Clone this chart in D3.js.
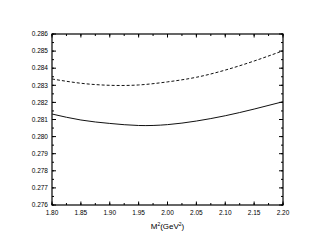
<!DOCTYPE html>
<meta charset="utf-8">
<style>
    body { margin: 0; background: #fff; }
    text { font-family: "Liberation Sans", Arial, sans-serif; fill: #000; }
    .tick-label { font-size: 6.5px; }
    .axis-title { font-size: 8px; }
    .line { fill: none; stroke: #111; stroke-width: 1px; }
</style>
<svg id="chart" width="317" height="249"></svg>
<script src="https://cdn.jsdelivr.net/npm/d3@7"></script>
<script>
    // M^2 values (GeV^2)
    var m2 = [1.80, 1.85, 1.90, 1.95, 2.00, 2.05, 2.10, 2.15, 2.20];
    // solid curve
    var solidVals = [0.28132, 0.28097, 0.28077, 0.28065, 0.28070, 0.28091, 0.28122, 0.28161, 0.28204];
    // dashed curve
    var dashedVals = [0.28337, 0.28312, 0.28300, 0.28302, 0.28320, 0.28347, 0.28389, 0.28442, 0.28502];
    var xTicks = [1.80, 1.85, 1.90, 1.95, 2.00, 2.05, 2.10, 2.15, 2.20];
    var yTicks = [0.276, 0.277, 0.278, 0.279, 0.280, 0.281, 0.282, 0.283, 0.284, 0.285, 0.286];

    var svg = d3.select("#chart"),
        margin = { top: 34, right: 34, bottom: 44, left: 52 },
        width = 283 - margin.left,
        height = 205 - margin.top,
        g = svg.append("g").attr("transform", "translate(" + margin.left + "," + margin.top + ")");

    var x = d3.scaleLinear().domain([1.80, 2.20]).range([0, width]),
        y = d3.scaleLinear().domain([0.276, 0.286]).range([height, 0]);

    // minor ticks every half step
    var xMinor = d3.range(1.8, 2.2001, 0.025),
        yMinor = d3.range(0.276, 0.28601, 0.0005);

    function tickLines(sel, vals, horiz, len) {
        vals.forEach(function (v) {
            if (horiz) {
                var px = x(v);
                sel.append("line").attr("x1", px).attr("x2", px).attr("y1", height).attr("y2", height - len);
                sel.append("line").attr("x1", px).attr("x2", px).attr("y1", 0).attr("y2", len);
            } else {
                var py = y(v);
                sel.append("line").attr("y1", py).attr("y2", py).attr("x1", 0).attr("x2", len);
                sel.append("line").attr("y1", py).attr("y2", py).attr("x1", width).attr("x2", width - len);
            }
        });
    }

    var ticks = g.append("g").attr("stroke", "#000").attr("stroke-width", 1);
    tickLines(ticks, xMinor, true, 2);
    tickLines(ticks, xTicks, true, 3.5);
    tickLines(ticks, yMinor, false, 2);
    tickLines(ticks, yTicks, false, 4);

    g.append("rect")
        .attr("width", width).attr("height", height)
        .attr("fill", "none").attr("stroke", "#000").attr("stroke-width", 1.2);

    g.selectAll(".xl").data(xTicks).enter().append("text")
        .attr("class", "tick-label")
        .attr("x", function (d) { return x(d); })
        .attr("y", height + 9.5)
        .attr("text-anchor", "middle")
        .text(function (d) { return d3.format(".2f")(d); });

    g.selectAll(".yl").data(yTicks).enter().append("text")
        .attr("class", "tick-label")
        .attr("x", -4)
        .attr("y", function (d) { return y(d); })
        .attr("dy", "0.35em")
        .attr("text-anchor", "end")
        .text(function (d) { return d3.format(".3f")(d); });

    var title = g.append("text")
        .attr("class", "axis-title")
        .attr("x", width / 2)
        .attr("y", height + 24)
        .attr("text-anchor", "middle");
    title.append("tspan").text("M");
    title.append("tspan").attr("font-size", "5px").attr("dy", "-3").text("2");
    title.append("tspan").attr("dy", "3").text("(GeV");
    title.append("tspan").attr("font-size", "5px").attr("dy", "-3").text("2");
    title.append("tspan").attr("dy", "3").text(")");

    var line = d3.line()
        .curve(d3.curveNatural)
        .x(function (d) { return x(d[0]); })
        .y(function (d) { return y(d[1]); });

    g.append("path")
        .attr("class", "line")
        .attr("d", line(m2.map(function (v, i) { return [v, solidVals[i]]; })));

    g.append("path")
        .attr("class", "line")
        .style("stroke-dasharray", "3,2")
        .attr("d", line(m2.map(function (v, i) { return [v, dashedVals[i]]; })));
</script>
